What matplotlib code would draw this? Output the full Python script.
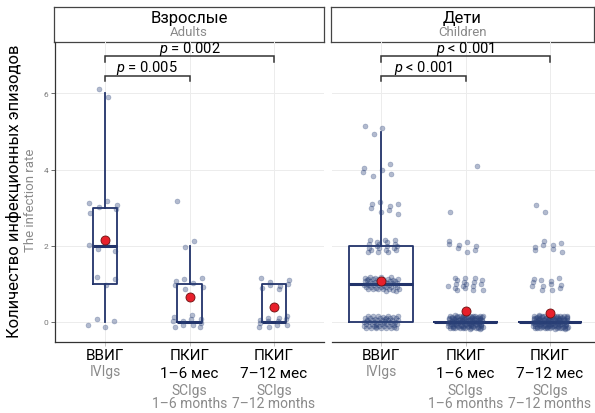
import numpy as np
import matplotlib
matplotlib.use("Agg")
import matplotlib.pyplot as plt
from matplotlib.transforms import blended_transform_factory

plt.rcParams['font.family'] = ['Roboto', 'DejaVu Sans']
plt.rcParams['mathtext.fontset'] = 'custom'
plt.rcParams['mathtext.rm'] = 'Roboto'
plt.rcParams['mathtext.it'] = 'Roboto:italic'

# ---------------- data ----------------
values = [0, 1, 2, 3, 4, 5, 6]          # number of infection episodes
# counts of patients per value (read from jittered points)
adults_ivig   = [4, 3, 4, 6, 0, 0, 2]
adults_sc16   = [11, 7, 2, 1, 0, 0, 0]
adults_sc712  = [12, 8, 0, 0, 0, 0, 0]
child_ivig    = [55, 50, 20, 8, 6, 3, 0]
child_sc16    = [112, 18, 8, 1, 1, 0, 0]
child_sc712   = [118, 12, 8, 2, 0, 0, 0]

panel_titles = ["Взрослые", "Дети"]
panel_subtitles = ["Adults", "Children"]
cat_main = [["ВВИГ"], ["ПКИГ", "1–6 мес"], ["ПКИГ", "7–12 мес"]]
cat_sub = [["IVIgs"], ["SCIgs", "1–6 months"], ["SCIgs", "7–12 months"]]
p_labels = [[r"$p$ = 0.005", r"$p$ = 0.002"], [r"$p$ < 0.001", r"$p$ < 0.001"]]
yticks = [0, 2, 4, 6]

panels = [[adults_ivig, adults_sc16, adults_sc712],
          [child_ivig, child_sc16, child_sc712]]

# ---------------- style ----------------
NAVY = '#22336a'
PT = '#2b4279'
RED = '#e8202b'
GRID = '#ececec'
GREY_TXT = '#8a8a8a'

W, H = 595, 414
fig = plt.figure(figsize=(W / 100, H / 100), dpi=100)


def ax_rect(x0, y0, x1, y1):
    return [x0 / W, 1 - y1 / H, (x1 - x0) / W, (y1 - y0) / H]


ax_px = [(55, 324), (332, 595)]
strip_px = [(54, 324), (331, 594)]
top_px, bot_px = 43, 343
ylim = (-0.525, 7.35)
spacing = 84.5
first_cat_px = [105, 381]

all_n = [sum(c) for p in panels for c in p]
nmax = max(all_n)


def expand(counts):
    return np.repeat(np.array(values, dtype=float), counts)


def jitter(n, k):
    # deterministic low-discrepancy jitter (positions only)
    i = np.arange(n) + 1 + 7 * k
    g = 1.32471795724474602596
    u = (i / g) % 1.0
    v = (i / g ** 2) % 1.0
    return (u - 0.5) * 0.42, (v - 0.5) * 0.36


for pi, (groups, (x0, x1), (sx0, sx1)) in enumerate(zip(panels, ax_px, strip_px)):
    # strip
    sax = fig.add_axes(ax_rect(sx0, 8, sx1, 43))
    sax.set_zorder(1)
    sax.set_xticks([])
    sax.set_yticks([])
    for s in sax.spines.values():
        s.set_color('#444444')
        s.set_linewidth(0.9)
    sax.text(0.5, (43 - 18.5) / 35, panel_titles[pi], transform=sax.transAxes,
             ha='center', va='center', fontsize=12, color='black')
    sax.text(0.5, (43 - 32) / 35, panel_subtitles[pi], transform=sax.transAxes,
             ha='center', va='center', fontsize=9.5, color=GREY_TXT)

    ax = fig.add_axes(ax_rect(x0, top_px, x1, bot_px))
    ax.set_zorder(2)
    ax.patch.set_alpha(0)
    xl = 1 - (first_cat_px[pi] - x0) / spacing
    xr = xl + (x1 - x0) / spacing
    ax.set_xlim(xl, xr)
    ax.set_ylim(*ylim)

    data = [expand(c) for c in groups]
    positions = [1, 2, 3]
    widths = [0.75 * np.sqrt(len(d) / nmax) for d in data]

    ax.boxplot(data, positions=positions, widths=widths, whis=1.5,
               showfliers=False, showcaps=False, patch_artist=False,
               boxprops=dict(color=NAVY, linewidth=1.3),
               whiskerprops=dict(color=NAVY, linewidth=1.3),
               medianprops=dict(color=NAVY, linewidth=2.2, solid_capstyle='butt'),
               zorder=2)

    for k, (pos, d) in enumerate(zip(positions, data)):
        dx, dy = jitter(len(d), k + 3 * pi)
        ax.scatter(pos + dx, d + dy, s=13, color=PT, alpha=0.36,
                   edgecolors=PT, linewidths=0.4, zorder=3)
        ax.plot([pos], [d.mean()], 'o', ms=6.5, color=RED, mec='#6b1010',
                mew=0.6, zorder=5)

    # grid
    ax.set_yticks(yticks)
    ax.set_xticks(positions)
    ax.grid(True, color=GRID, linewidth=0.7, zorder=0)
    ax.set_axisbelow(True)
    ax.set_xticklabels([])
    for s in ['top', 'right']:
        ax.spines[s].set_visible(False)
    ax.spines['bottom'].set_color('#333333')
    ax.spines['bottom'].set_linewidth(0.9)
    ax.tick_params(axis='x', length=3, color='#bbbbbb', width=0.6)
    if pi == 0:
        ax.spines['left'].set_color('#333333')
        ax.spines['left'].set_linewidth(0.9)
        ax.tick_params(axis='y', length=3, color='#555555', width=0.6,
                       labelsize=6, labelcolor='#777777', pad=2)
    else:
        ax.spines['left'].set_visible(False)
        ax.tick_params(axis='y', length=0, labelleft=False)

    # significance brackets
    br = [(1, 2, 6.47), (1, 3, 6.97)]
    for (a, b, yb), lab in zip(br, p_labels[pi]):
        ax.plot([a, a, b, b], [yb - 0.14, yb, yb, yb - 0.14], color='#333333',
                lw=1.1, clip_on=False, zorder=4, solid_joinstyle='miter')
        ax.text((a + b) / 2, yb + 0.13, lab, ha='center', va='baseline',
                fontsize=10.5, color='black', clip_on=False, zorder=6)

    # category labels
    tr = blended_transform_factory(ax.transData, ax.transAxes)

    def ya(py):
        return (bot_px - py) / (bot_px - top_px)

    for k, pos in enumerate(positions):
        ax.text(pos, ya(356.5), cat_main[k][0], transform=tr, ha='center',
                va='center', fontsize=11, color='black')
        if len(cat_main[k]) == 1:
            ax.text(pos, ya(372), cat_sub[k][0], transform=tr, ha='center',
                    va='center', fontsize=10, color=GREY_TXT)
        else:
            ax.text(pos, ya(374.5), cat_main[k][1], transform=tr, ha='center',
                    va='center', fontsize=11, color='black')
            ax.text(pos, ya(391), cat_sub[k][0], transform=tr, ha='center',
                    va='center', fontsize=10, color=GREY_TXT)
            ax.text(pos, ya(404), cat_sub[k][1], transform=tr, ha='center',
                    va='center', fontsize=10, color=GREY_TXT)

# y labels
fig.text(14 / W, 1 - 191 / H, "Количество инфекционных эпизодов", rotation=90,
         ha='center', va='center', fontsize=12, color='black')
fig.text(31 / W, 1 - 200 / H, "The infection rate", rotation=90,
         ha='center', va='center', fontsize=9.5, color=GREY_TXT)

fig.savefig("out.png", dpi=100)
